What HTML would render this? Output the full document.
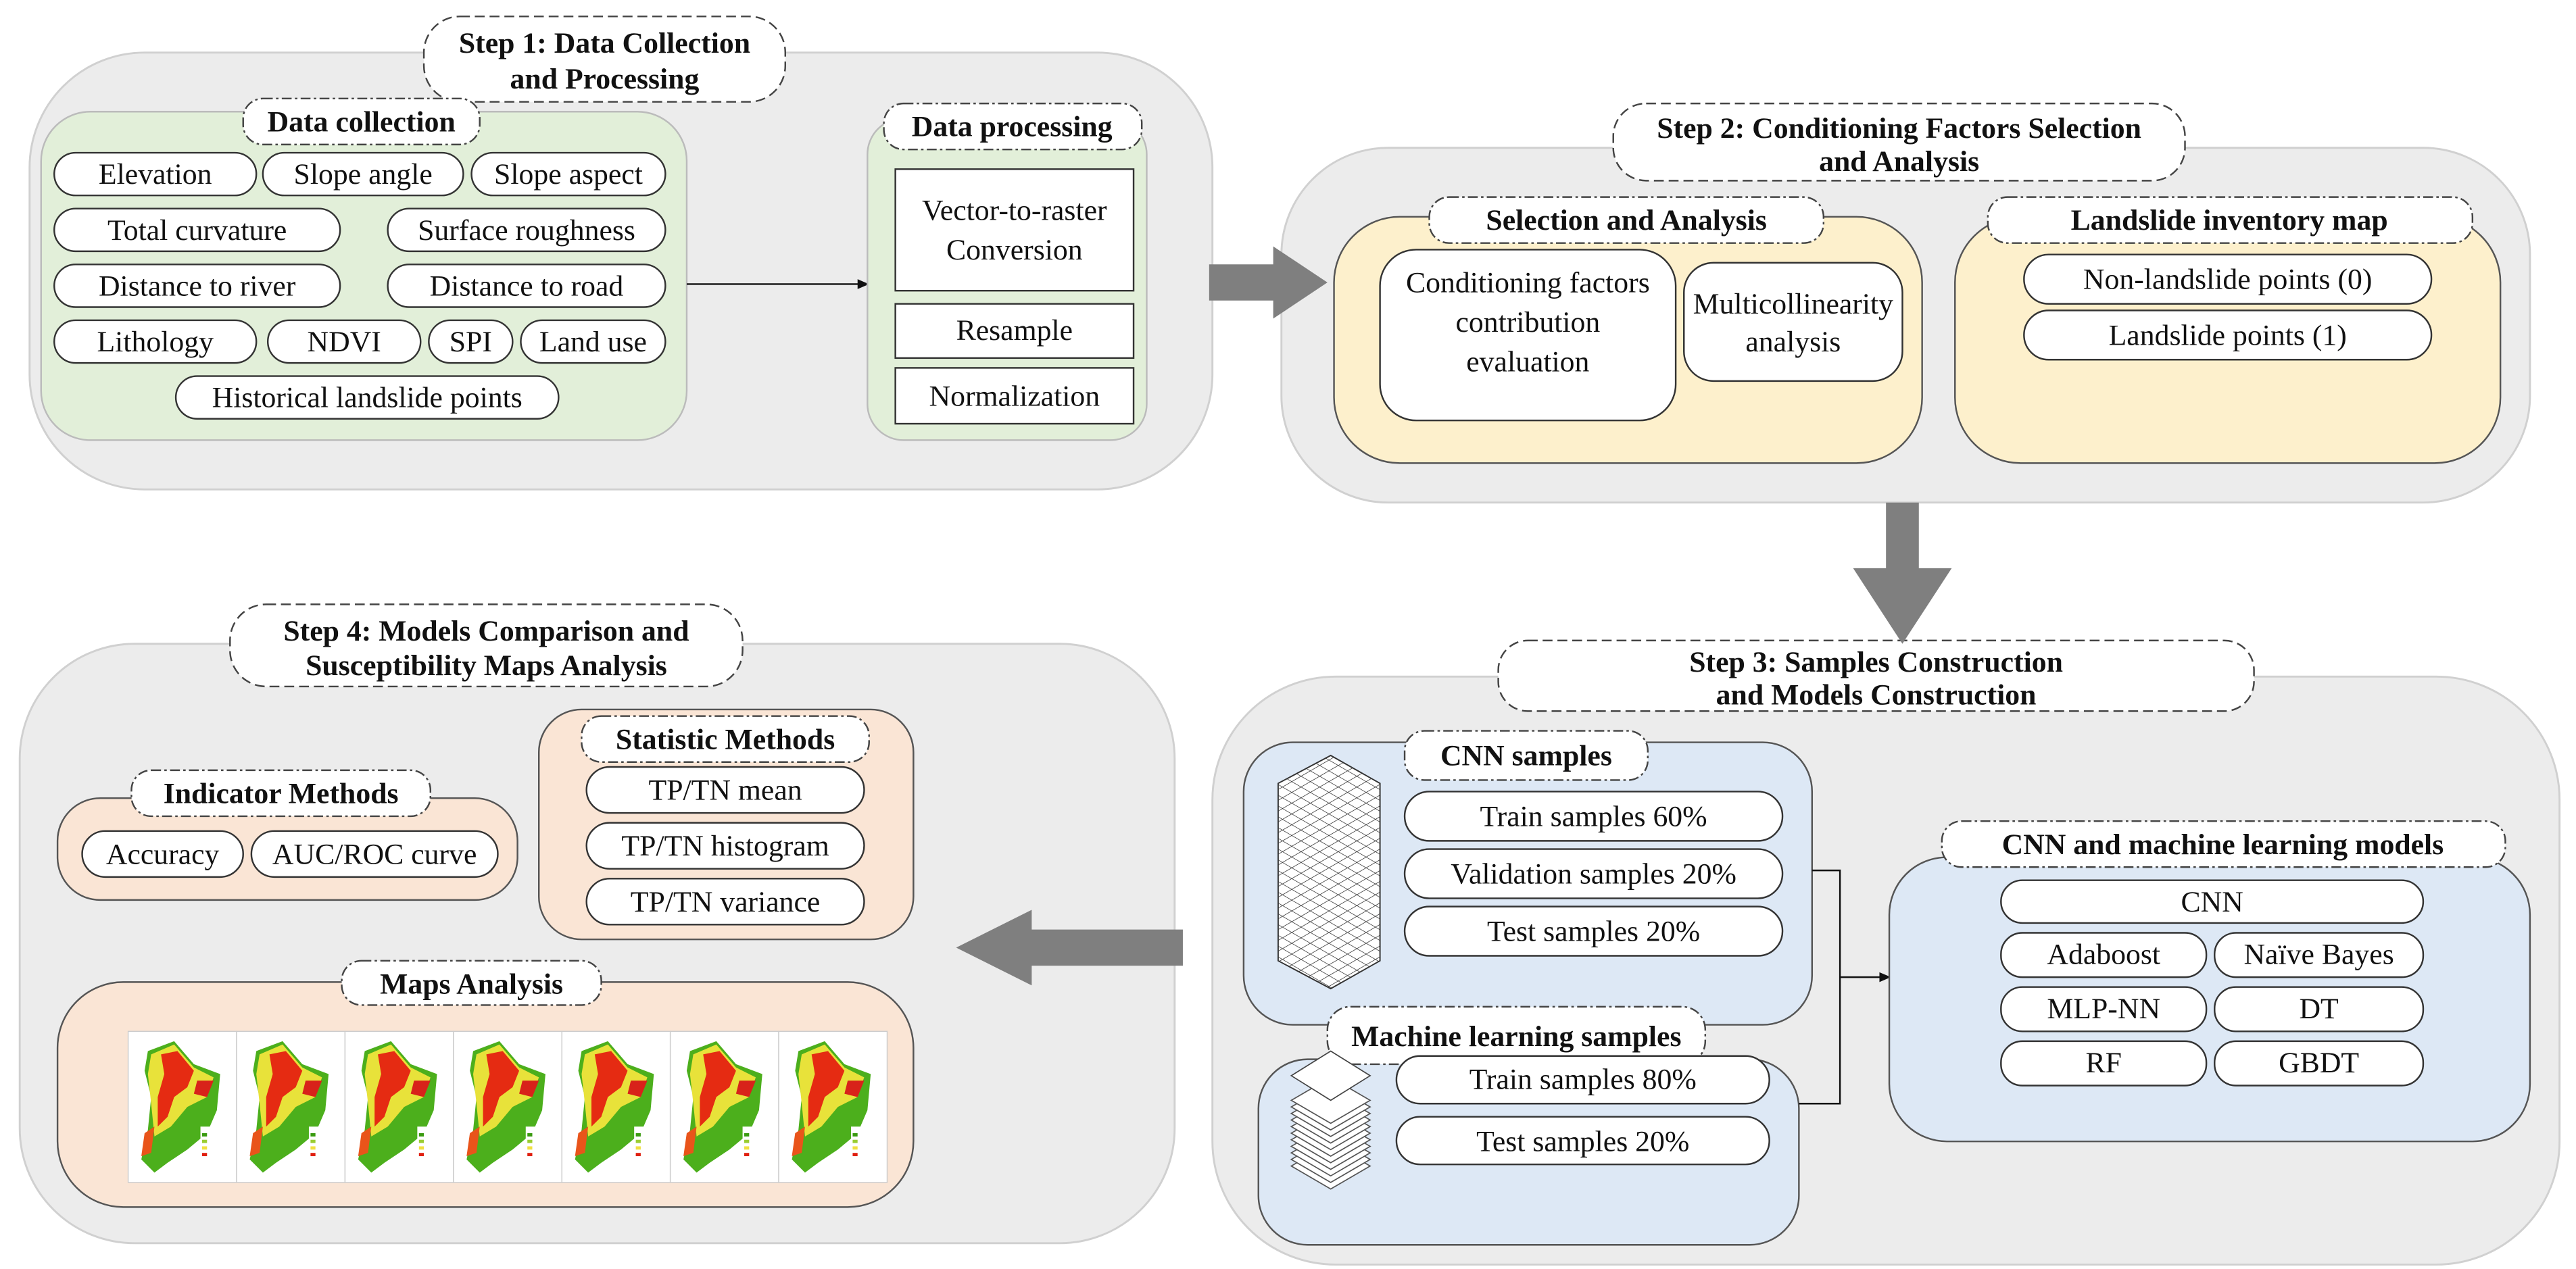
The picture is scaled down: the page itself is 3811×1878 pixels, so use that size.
<!DOCTYPE html>
<html><head><meta charset="utf-8"><style>
html,body{margin:0;padding:0;background:#fff;}
svg{display:block;}
svg text{font-family:"Liberation Serif","Times New Roman",serif;fill:#111;}
.t{font-weight:bold;font-size:18px;text-anchor:middle;}
.i{font-size:18px;text-anchor:middle;}
.big{fill:#ececec;stroke:#d0d0d0;stroke-width:1.2;}
.pill{fill:#fff;stroke:#333;stroke-width:1;}
.dp{fill:#fff;stroke:#444;stroke-width:1;stroke-dasharray:6,3;}
.dd{fill:#fff;stroke:#444;stroke-width:1;stroke-dasharray:6,2,1.5,2;}
.g{fill:#e2efd9;stroke:#bbb;stroke-width:1;}
.y{fill:#fdf0cc;stroke:#555;stroke-width:1;}
.b{fill:#dde8f5;stroke:#555;stroke-width:1;}
.p{fill:#fae5d5;stroke:#555;stroke-width:1;}
</style></head><body>
<svg width="3811" height="1878" viewBox="0 0 1568 772.7" xmlns="http://www.w3.org/2000/svg" font-family="Liberation Serif, serif">
<defs>
<pattern id="grid" width="8" height="8" patternUnits="userSpaceOnUse" patternTransform="scale(1,0.58) rotate(45)">
<rect width="8" height="8" fill="#fff"/><path d="M0 0H8M0 0V8" stroke="#333" stroke-width="0.9"/>
</pattern>
<g id="map">
<rect x="0" y="0" width="66" height="92" fill="#fff" stroke="#ccc" stroke-width="0.6"/>
<polygon points="12,12 28,6 40,20 56,26 54,48 48,62 36,72 24,80 16,86 8,78 12,60 14,40 10,24" fill="#4caf1c"/>
<polygon points="14,14 28,8 40,22 52,28 48,40 36,46 26,58 16,64 14,44 12,26" fill="#e8e23a"/>
<polygon points="20,14 30,12 40,24 36,34 28,40 24,52 18,58 18,40 22,26" fill="#e52b12"/>
<polygon points="42,30 52,30 48,40 40,38" fill="#d8221a"/>
<polygon points="10,62 16,58 14,74 8,76" fill="#e9541a"/>
<rect x="44" y="58" width="14" height="20" fill="#fff"/>
<rect x="45" y="62" width="3" height="2" fill="#3a9b10"/><rect x="45" y="66" width="3" height="2" fill="#9acd32"/><rect x="45" y="70" width="3" height="2" fill="#f0e040"/><rect x="45" y="74" width="3" height="2" fill="#e02010"/>
</g>
</defs>

<!-- STEP 1 -->
<rect class="big" x="18" y="32" width="720" height="266" rx="70"/>
<rect class="dp" x="258" y="10" width="220" height="52" rx="22"/>
<text class="t" x="368" y="32">Step 1: Data Collection</text>
<text class="t" x="368" y="54">and Processing</text>

<rect class="g" x="25" y="68" width="393" height="200" rx="30"/>
<rect class="dd" x="148" y="60" width="144" height="28" rx="12"/>
<text class="t" x="220" y="80">Data collection</text>
<g>
<rect class="pill" x="33" y="93" width="123" height="26" rx="13"/><text class="i" x="94.5" y="112">Elevation</text>
<rect class="pill" x="160" y="93" width="122" height="26" rx="13"/><text class="i" x="221" y="112">Slope angle</text>
<rect class="pill" x="287" y="93" width="118" height="26" rx="13"/><text class="i" x="346" y="112">Slope aspect</text>
<rect class="pill" x="33" y="127" width="174" height="26" rx="13"/><text class="i" x="120" y="146">Total curvature</text>
<rect class="pill" x="236" y="127" width="169" height="26" rx="13"/><text class="i" x="320.5" y="146">Surface roughness</text>
<rect class="pill" x="33" y="161" width="174" height="26" rx="13"/><text class="i" x="120" y="180">Distance to river</text>
<rect class="pill" x="236" y="161" width="169" height="26" rx="13"/><text class="i" x="320.5" y="180">Distance to road</text>
<rect class="pill" x="33" y="195" width="123" height="26" rx="13"/><text class="i" x="94.5" y="214">Lithology</text>
<rect class="pill" x="163" y="195" width="93" height="26" rx="13"/><text class="i" x="209.5" y="214">NDVI</text>
<rect class="pill" x="261" y="195" width="51" height="26" rx="13"/><text class="i" x="286.5" y="214">SPI</text>
<rect class="pill" x="317" y="195" width="88" height="26" rx="13"/><text class="i" x="361" y="214">Land use</text>
<rect class="pill" x="107" y="229" width="233" height="26" rx="13"/><text class="i" x="223.5" y="248">Historical landslide points</text>
</g>
<line x1="418" y1="173" x2="524" y2="173" stroke="#111" stroke-width="1"/>
<polygon points="529,173 522,170 522,176" fill="#111"/>

<rect class="g" x="528" y="72" width="170" height="196" rx="22"/>
<rect class="dd" x="538" y="63" width="157" height="28" rx="12"/>
<text class="t" x="616" y="83">Data processing</text>
<rect x="545" y="103" width="145" height="74" fill="#fff" stroke="#333" stroke-width="1"/>
<text class="i" x="617.5" y="134">Vector-to-raster</text><text class="i" x="617.5" y="158">Conversion</text>
<rect x="545" y="185" width="145" height="33" fill="#fff" stroke="#333" stroke-width="1"/>
<text class="i" x="617.5" y="207">Resample</text>
<rect x="545" y="224" width="145" height="34" fill="#fff" stroke="#333" stroke-width="1"/>
<text class="i" x="617.5" y="247">Normalization</text>

<!-- STEP 2 -->
<rect class="big" x="780" y="90" width="760" height="216" rx="65"/>
<rect class="dp" x="982" y="63" width="348" height="47" rx="20"/>
<text class="t" x="1156" y="84">Step 2: Conditioning Factors Selection</text>
<text class="t" x="1156" y="104">and Analysis</text>

<rect class="y" x="812" y="132" width="358" height="150" rx="40"/>
<rect class="dd" x="870" y="120" width="240" height="28" rx="12"/>
<text class="t" x="990" y="140">Selection and Analysis</text>
<rect class="pill" x="840" y="152" width="180" height="104" rx="22"/>
<text class="i" x="930" y="178">Conditioning factors</text>
<text class="i" x="930" y="202">contribution</text>
<text class="i" x="930" y="226">evaluation</text>
<rect class="pill" x="1025" y="160" width="133" height="72" rx="18"/>
<text class="i" x="1091.5" y="191">Multicollinearity</text>
<text class="i" x="1091.5" y="214">analysis</text>

<rect class="y" x="1190" y="132" width="332" height="150" rx="40"/>
<rect class="dd" x="1210" y="120" width="295" height="28" rx="12"/>
<text class="t" x="1357" y="140">Landslide inventory map</text>
<rect class="pill" x="1232" y="155" width="248" height="30" rx="15"/><text class="i" x="1356" y="176">Non-landslide points (0)</text>
<rect class="pill" x="1232" y="189" width="248" height="30" rx="15"/><text class="i" x="1356" y="210">Landslide points (1)</text>

<!-- STEP 3 -->
<rect class="big" x="738" y="412" width="820" height="358" rx="75"/>
<rect class="dp" x="912" y="390" width="460" height="43" rx="18"/>
<text class="t" x="1142" y="409">Step 3: Samples Construction</text>
<text class="t" x="1142" y="429">and Models Construction</text>

<rect class="b" x="757" y="452" width="346" height="172" rx="30"/>
<rect class="dd" x="855" y="445" width="148" height="30" rx="12"/>
<text class="t" x="929" y="466">CNN samples</text>
<polygon points="810,460 840,477 840,585 810,602 778,585 778,477" fill="url(#grid)" stroke="#333" stroke-width="0.8"/>
<rect class="pill" x="855" y="482" width="230" height="30" rx="15"/><text class="i" x="970" y="503">Train samples 60%</text>
<rect class="pill" x="855" y="517" width="230" height="30" rx="15"/><text class="i" x="970" y="538">Validation samples 20%</text>
<rect class="pill" x="855" y="552" width="230" height="30" rx="15"/><text class="i" x="970" y="573">Test samples 20%</text>

<rect class="b" x="766" y="645" width="329" height="113" rx="30"/>
<rect class="dd" x="808" y="613" width="230" height="35" rx="14"/>
<text class="t" x="923" y="637">Machine learning samples</text>
<g fill="#fff" stroke="#555" stroke-width="0.7">
<polygon points="810,696 834,710 810,724 786,710"/>
<polygon points="810,692 834,706 810,720 786,706"/>
<polygon points="810,688 834,702 810,716 786,702"/>
<polygon points="810,684 834,698 810,712 786,698"/>
<polygon points="810,680 834,694 810,708 786,694"/>
<polygon points="810,676 834,690 810,704 786,690"/>
<polygon points="810,672 834,686 810,700 786,686"/>
<polygon points="810,668 834,682 810,696 786,682"/>
<polygon points="810,664 834,678 810,692 786,678"/>
<polygon points="810,660 834,674 810,688 786,674"/>
<polygon points="810,656 834,670 810,684 786,670"/>
<polygon points="810,640 834,655 810,670 786,655" stroke="#444"/>
</g>
<rect class="pill" x="850" y="643" width="227" height="29" rx="14.5"/><text class="i" x="963.5" y="663">Train samples 80%</text>
<rect class="pill" x="850" y="680" width="227" height="29" rx="14.5"/><text class="i" x="963.5" y="701">Test samples 20%</text>

<path d="M1103,530 H1120 V672 H1095 M1120,595 H1146" fill="none" stroke="#111" stroke-width="1"/>
<polygon points="1151,595 1144,592 1144,598" fill="#111"/>

<rect class="b" x="1150" y="522" width="390" height="173" rx="35"/>
<rect class="dd" x="1182" y="500" width="343" height="28" rx="12"/>
<text class="t" x="1353" y="520">CNN and machine learning models</text>
<rect class="pill" x="1218" y="536" width="257" height="26" rx="13"/><text class="i" x="1346.5" y="555">CNN</text>
<rect class="pill" x="1218" y="568" width="125" height="27" rx="13"/><text class="i" x="1280.5" y="587">Adaboost</text>
<rect class="pill" x="1348" y="568" width="127" height="27" rx="13"/><text class="i" x="1411.5" y="587">Naïve Bayes</text>
<rect class="pill" x="1218" y="601" width="125" height="27" rx="13"/><text class="i" x="1280.5" y="620">MLP-NN</text>
<rect class="pill" x="1348" y="601" width="127" height="27" rx="13"/><text class="i" x="1411.5" y="620">DT</text>
<rect class="pill" x="1218" y="634" width="125" height="27" rx="13"/><text class="i" x="1280.5" y="653">RF</text>
<rect class="pill" x="1348" y="634" width="127" height="27" rx="13"/><text class="i" x="1411.5" y="653">GBDT</text>

<!-- STEP 4 -->
<rect class="big" x="12" y="392" width="703" height="365" rx="70"/>
<rect class="dp" x="140" y="368" width="312" height="50" rx="22"/>
<text class="t" x="296" y="390">Step 4: Models Comparison and</text>
<text class="t" x="296" y="411">Susceptibility Maps Analysis</text>

<rect class="p" x="35" y="486" width="280" height="62" rx="26"/>
<rect class="dd" x="80" y="469" width="182" height="28" rx="12"/>
<text class="t" x="171" y="489">Indicator Methods</text>
<rect class="pill" x="50" y="506" width="98" height="28" rx="14"/><text class="i" x="99" y="526">Accuracy</text>
<rect class="pill" x="153" y="506" width="150" height="28" rx="14"/><text class="i" x="228" y="526">AUC/ROC curve</text>

<rect class="p" x="328" y="432" width="228" height="140" rx="26"/>
<rect class="dd" x="354" y="436" width="175" height="28" rx="12"/>
<text class="t" x="441.5" y="456">Statistic Methods</text>
<rect class="pill" x="357" y="467" width="169" height="28" rx="14"/><text class="i" x="441.5" y="487">TP/TN mean</text>
<rect class="pill" x="357" y="501" width="169" height="28" rx="14"/><text class="i" x="441.5" y="521">TP/TN histogram</text>
<rect class="pill" x="357" y="535" width="169" height="28" rx="14"/><text class="i" x="441.5" y="555">TP/TN variance</text>

<rect class="p" x="35" y="598" width="521" height="137" rx="40"/>
<rect class="dd" x="208" y="585" width="158" height="27" rx="12"/>
<text class="t" x="287" y="605">Maps Analysis</text>
<use href="#map" x="78" y="628"/>
<use href="#map" x="144" y="628"/>
<use href="#map" x="210" y="628"/>
<use href="#map" x="276" y="628"/>
<use href="#map" x="342" y="628"/>
<use href="#map" x="408" y="628"/>
<use href="#map" x="474" y="628"/>

<!-- big arrows on top -->
<polygon points="736,161 775,161 775,150 808,172 775,194 775,183 736,183" fill="#7f7f7f"/>
<polygon points="1148,306 1168,306 1168,346 1188,346 1158,392 1128,346 1148,346" fill="#7f7f7f"/>
<polygon points="720,566 628,566 628,554 582,577 628,600 628,588 720,588" fill="#7f7f7f"/>
</svg>
</body></html>
